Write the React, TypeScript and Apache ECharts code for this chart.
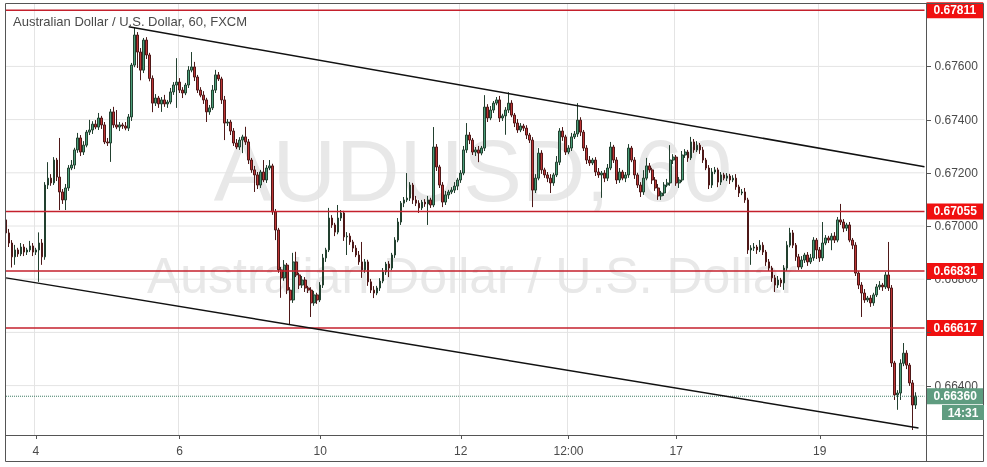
import React, { useEffect, useRef } from "react";
import * as echarts from "echarts";

const titleText = "Australian Dollar / U.S. Dollar, 60, FXCM";
const watermarkSymbol = "AUDUSD, 60";
const watermarkName = "Australian Dollar / U.S. Dollar";

// hourly candles: open of first candle, then closes (open = previous close)
const firstOpen = 0.67023;
const closes = [
  0.66974, 0.66936, 0.66884, 0.66910, 0.66895, 0.66921, 0.66902, 0.66910, 0.66925, 0.66902,
  0.66910, 0.66936, 0.66884, 0.67154, 0.67180, 0.67162, 0.67248, 0.67184, 0.67128, 0.67098,
  0.67143, 0.67218, 0.67229, 0.67286, 0.67331, 0.67278, 0.67304, 0.67353, 0.67361, 0.67383,
  0.67372, 0.67406, 0.67380, 0.67316, 0.67312, 0.67429, 0.67380, 0.67372, 0.67380, 0.67376,
  0.67368, 0.67410, 0.67605, 0.67718, 0.67654, 0.67586, 0.67699, 0.67643, 0.67555, 0.67462,
  0.67481, 0.67459, 0.67474, 0.67459, 0.67466, 0.67504, 0.67530, 0.67541, 0.67511, 0.67500,
  0.67530, 0.67586, 0.67598, 0.67560, 0.67511, 0.67492, 0.67474, 0.67429, 0.67444, 0.67511,
  0.67568, 0.67553, 0.67474, 0.67387, 0.67391, 0.67357, 0.67312, 0.67297, 0.67323, 0.67335,
  0.67316, 0.67248, 0.67211, 0.67192, 0.67154, 0.67203, 0.67173, 0.67218, 0.67226, 0.67053,
  0.66985, 0.66835, 0.66805, 0.66853, 0.66759, 0.66722, 0.66865, 0.66816, 0.66778, 0.66797,
  0.66767, 0.66759, 0.66711, 0.66741, 0.66722, 0.66778, 0.66880, 0.66910, 0.67030, 0.67004,
  0.66977, 0.67030, 0.67049, 0.66959, 0.66962, 0.66940, 0.66917, 0.66891, 0.66865, 0.66835,
  0.66865, 0.66790, 0.66759, 0.66748, 0.66767, 0.66793, 0.66827, 0.66857, 0.66842, 0.66891,
  0.66947, 0.67015, 0.67086, 0.67098, 0.67105, 0.67154, 0.67098, 0.67086, 0.67068, 0.67090,
  0.67083, 0.67098, 0.67079, 0.67297, 0.67222, 0.67154, 0.67090, 0.67117, 0.67128, 0.67135,
  0.67150, 0.67173, 0.67199, 0.67286, 0.67342, 0.67323, 0.67278, 0.67286, 0.67274, 0.67293,
  0.67447, 0.67406, 0.67436, 0.67462, 0.67474, 0.67406, 0.67414, 0.67436, 0.67462, 0.67417,
  0.67387, 0.67361, 0.67376, 0.67368, 0.67342, 0.67323, 0.67135, 0.67180, 0.67274, 0.67211,
  0.67192, 0.67180, 0.67162, 0.67192, 0.67240, 0.67357, 0.67335, 0.67278, 0.67293, 0.67335,
  0.67346, 0.67398, 0.67353, 0.67293, 0.67248, 0.67237, 0.67248, 0.67203, 0.67192, 0.67199,
  0.67180, 0.67218, 0.67297, 0.67248, 0.67173, 0.67203, 0.67180, 0.67192, 0.67293, 0.67248,
  0.67192, 0.67154, 0.67128, 0.67180, 0.67226, 0.67211, 0.67173, 0.67143, 0.67113, 0.67124,
  0.67154, 0.67162, 0.67248, 0.67259, 0.67162, 0.67173, 0.67267, 0.67278, 0.67256, 0.67316,
  0.67286, 0.67304, 0.67286, 0.67248, 0.67218, 0.67154, 0.67203, 0.67211, 0.67165, 0.67192,
  0.67180, 0.67188, 0.67173, 0.67180, 0.67147, 0.67124, 0.67128, 0.67098, 0.66910, 0.66917,
  0.66921, 0.66910, 0.66928, 0.66902, 0.66865, 0.66842, 0.66805, 0.66778, 0.66797, 0.66786,
  0.66842, 0.66928, 0.66974, 0.66928, 0.66884, 0.66846, 0.66872, 0.66891, 0.66865, 0.66880,
  0.66947, 0.66910, 0.66880, 0.66936, 0.66955, 0.66947, 0.66962, 0.66947, 0.67023, 0.67015,
  0.66992, 0.67004, 0.66947, 0.66928, 0.66823, 0.66778, 0.66748, 0.66722, 0.66729, 0.66711,
  0.66741, 0.66771, 0.66778, 0.66771, 0.66816, 0.66767, 0.66485, 0.66365, 0.66372, 0.66484,
  0.66522, 0.66477, 0.66410, 0.66327, 0.66360,
];
// upper / lower shadow length of each candle, in points (0.00001)
const wickUp = [
  56, 15, 11, 19, 8, 15, 11, 8, 19, 11, 8, 40, 15, 11, 60, 15, 11, 8, 147, 11,
  15, 11, 19, 8, 19, 11, 15, 8, 38, 11, 15, 19, 8, 11, 15, 11, 19, 56, 11, 8,
  15, 11, 8, 30, 11, 15, 8, 11, 8, 11, 15, 8, 11, 19, 8, 15, 11, 90, 15, 11,
  8, 15, 56, 19, 8, 11, 15, 8, 11, 19, 19, 11, 8, 15, 11, 8, 11, 15, 11, 8,
  38, 11, 8, 15, 11, 8, 45, 11, 22, 8, 11, 8, 11, 19, 8, 11, 34, 38, 8, 15,
  11, 8, 11, 15, 8, 11, 15, 8, 38, 11, 8, 49, 11, 8, 15, 11, 8, 11, 15, 75,
  11, 8, 11, 15, 8, 11, 15, 8, 11, 8, 11, 15, 8, 11, 94, 11, 8, 15, 11, 8,
  11, 15, 8, 75, 11, 8, 11, 15, 8, 11, 15, 8, 11, 15, 45, 11, 8, 11, 15, 8,
  45, 11, 15, 8, 11, 15, 8, 11, 41, 11, 8, 15, 11, 8, 11, 8, 11, 15, 19, 11,
  8, 11, 15, 8, 23, 11, 15, 8, 11, 15, 11, 64, 11, 8, 11, 15, 8, 11, 15, 8,
  11, 15, 19, 8, 11, 15, 8, 11, 15, 8, 11, 8, 11, 30, 30, 11, 8, 11, 15, 8,
  11, 15, 56, 11, 8, 11, 15, 11, 8, 19, 11, 15, 8, 11, 8, 11, 15, 11, 8, 11,
  8, 11, 8, 11, 15, 8, 11, 15, 8, 11, 15, 8, 19, 11, 8, 11, 8, 11, 15, 8,
  11, 15, 19, 11, 8, 11, 15, 8, 11, 15, 11, 8, 11, 79, 11, 8, 11, 15, 11, 60,
  11, 8, 11, 8, 11, 8, 11, 15, 8, 11, 8, 11, 15, 8, 11, 124, 11, 8, 11, 15,
  38, 11, 8, 11, 15,
];
const wickDown = [
  11, 15, 40, 30, 11, 8, 15, 11, 8, 15, 11, 120, 30, 11, 15, 11, 8, 15, 68, 15,
  38, 11, 8, 15, 11, 15, 11, 8, 11, 15, 8, 11, 15, 8, 11, 71, 11, 8, 15, 11,
  8, 11, 15, 8, 60, 38, 11, 15, 11, 34, 11, 15, 30, 11, 15, 8, 11, 86, 11, 19,
  8, 11, 8, 15, 11, 8, 15, 38, 11, 8, 11, 8, 15, 64, 11, 15, 11, 8, 11, 49,
  11, 15, 11, 64, 15, 11, 8, 11, 8, 11, 38, 11, 75, 11, 15, 94, 11, 8, 15, 11,
  15, 11, 53, 11, 15, 8, 11, 15, 8, 11, 15, 8, 11, 15, 68, 11, 15, 8, 11, 30,
  11, 15, 11, 19, 8, 11, 8, 11, 34, 8, 11, 8, 11, 15, 8, 11, 15, 11, 19, 8,
  11, 79, 11, 8, 15, 11, 19, 11, 15, 8, 11, 15, 11, 8, 11, 15, 11, 15, 34, 8,
  11, 15, 8, 11, 8, 15, 11, 71, 11, 8, 15, 11, 8, 11, 15, 11, 64, 11, 8, 15,
  11, 15, 38, 11, 8, 11, 15, 11, 8, 11, 8, 11, 15, 11, 15, 11, 8, 15, 11, 86,
  15, 11, 8, 11, 15, 11, 8, 15, 11, 8, 15, 11, 19, 11, 8, 11, 15, 11, 15, 15,
  11, 8, 11, 15, 11, 19, 8, 11, 15, 8, 11, 8, 15, 11, 8, 15, 11, 8, 19, 11,
  8, 11, 15, 8, 11, 15, 8, 11, 15, 56, 11, 15, 8, 11, 15, 11, 15, 26, 11, 15,
  26, 11, 8, 11, 15, 11, 8, 11, 15, 8, 11, 34, 15, 11, 8, 11, 38, 11, 8, 11,
  15, 11, 8, 15, 11, 15, 90, 11, 8, 15, 11, 8, 11, 15, 8, 11, 15, 19, 56, 26,
  11, 15, 11, 94, 15,
];

const timeLabels = ["4", "6", "10", "12", "12:00", "17", "19"];
const timeLabelIndex = [10, 58, 105, 152, 188, 224, 272];
const emptySlotsRight = 3;

const priceTicks = [0.664, 0.666, 0.668, 0.67, 0.672, 0.674, 0.676];
const levels = [0.67811, 0.67055, 0.66831, 0.66617];
const lastPrice = 0.6636;
const countdown = "14:31";
const upperTrend = [[41, 0.67749], [307, 0.67223]];
const lowerTrend = [[0, 0.66805], [305, 0.66241]];
const priceMin = 0.662143;
const priceMax = 0.678365;

const FONT = "Liberation Sans";
const GREEN_TAG = "#5f9c80";

export default function App() {
  const ref = useRef<HTMLDivElement>(null);
  useEffect(() => {
    const chart = echarts.init(ref.current!, null, { renderer: "svg" });
    const n = closes.length;
    const total = n + emptySlotsRight;
    const lastIdx = total - 1;
    const cats = Array.from({ length: total }, (_, i) => String(i));
    const ohlc = closes.map((c, i) => {
      const o = i === 0 ? firstOpen : closes[i - 1];
      const hi = Math.max(o, c) + wickUp[i] * 1e-5;
      const lo = Math.min(o, c) - wickDown[i] * 1e-5;
      return [o, c, lo, hi];
    });
    const labelAt = new Map<number, string>(timeLabelIndex.map((idx, k) => [idx, timeLabels[k]]));
    const isLabel = (i: number) => labelAt.has(i);

    const hLine = (name: string, p: number, z: number, lineStyle: any, endLabel: any) => ({
      name,
      type: "line",
      z,
      silent: true,
      symbol: "none",
      data: [
        [0, p],
        [lastIdx, p],
      ],
      lineStyle,
      endLabel: { show: true, formatter: p.toFixed(5), fontFamily: FONT, fontSize: 12, ...endLabel },
      emphasis: { disabled: true },
    });

    const tagLabel = (bg: string) => ({
      distance: 2,
      color: "#ffffff",
      fontWeight: "bold",
      lineHeight: 12,
      backgroundColor: bg,
      padding: [2, 7, 2, 7],
    });

    const frame: any[] = [
      {
        type: "text",
        z: 0,
        silent: true,
        style: {
          text: watermarkSymbol,
          x: 473,
          y: 170,
          align: "center",
          verticalAlign: "middle",
          fontSize: 88,
          fontFamily: FONT,
          fill: "#e8e8e8",
        },
      },
      {
        type: "text",
        z: 0,
        silent: true,
        style: {
          text: watermarkName,
          x: 472,
          y: 276,
          align: "center",
          verticalAlign: "middle",
          fontSize: 50,
          fontFamily: FONT,
          fill: "#e8e8e8",
        },
      },
      {
        type: "text",
        z: 50,
        silent: true,
        style: {
          text: titleText,
          x: 13,
          y: 21,
          align: "left",
          verticalAlign: "middle",
          fontSize: 13,
          fontFamily: FONT,
          fill: "#4a4a4a",
        },
      },
      {
        type: "rect",
        z: 100,
        silent: true,
        shape: { x: 5.5, y: 3.5, width: 978, height: 458 },
        style: { fill: "none", stroke: "#555", lineWidth: 1 },
      },
      {
        type: "line",
        z: 100,
        silent: true,
        shape: { x1: 5.5, y1: 435.5, x2: 983.5, y2: 435.5 },
        style: { stroke: "#555", lineWidth: 1 },
      },
      {
        type: "line",
        z: 100,
        silent: true,
        shape: { x1: 926.5, y1: 3.5, x2: 926.5, y2: 461.5 },
        style: { stroke: "#555", lineWidth: 1 },
      },
      {
        type: "rect",
        z: 100,
        silent: true,
        shape: { x: 942, y: 405, width: 42, height: 15 },
        style: { fill: GREEN_TAG },
      },
      {
        type: "text",
        z: 101,
        silent: true,
        style: {
          text: countdown,
          x: 963,
          y: 413,
          align: "center",
          verticalAlign: "middle",
          fontSize: 12,
          fontWeight: "bold",
          fontFamily: FONT,
          fill: "#ffffff",
        },
      },
    ];

    chart.setOption({
      animation: false,
      grid: { left: 4.5, top: 3.5, width: 921.5, height: 431.5, containLabel: false },
      xAxis: {
        type: "category",
        data: cats,
        boundaryGap: true,
        axisLine: { show: false },
        axisTick: { show: true, alignWithLabel: true, interval: isLabel, length: 4, lineStyle: { color: "#555" } },
        axisLabel: {
          interval: isLabel,
          formatter: (v: string) => labelAt.get(Number(v)) ?? "",
          color: "#4a4a4a",
          fontSize: 12,
          fontFamily: FONT,
          margin: 10,
        },
        splitLine: { show: true, interval: isLabel, lineStyle: { color: "#e4e4e4", width: 1 } },
      },
      yAxis: {
        type: "value",
        position: "right",
        min: priceMin,
        max: priceMax,
        axisLine: { show: false },
        axisTick: { show: false },
        axisLabel: { show: false },
        splitLine: { show: false },
      },
      graphic: frame,
      series: [
        ...priceTicks.map((p, k) =>
          hLine("grid" + k, p, 1, { color: "#e4e4e4", width: 1, type: "solid" }, { distance: 10, color: "#4a4a4a" })
        ),
        {
          name: "AUDUSD",
          type: "candlestick",
          z: 2,
          barWidth: 2.2,
          data: ohlc,
          itemStyle: {
            color: "#4c9e7a",
            color0: "#bd3535",
            borderColor: "#22402f",
            borderColor0: "#4e1818",
            borderWidth: 1,
          },
          markLine: {
            silent: true,
            symbol: "none",
            data: [
              [
                { coord: upperTrend[0], lineStyle: { color: "#111", width: 1.5, type: "solid" }, label: { show: false } },
                { coord: upperTrend[1] },
              ],
              [
                { coord: lowerTrend[0], lineStyle: { color: "#111", width: 1.5, type: "solid" }, label: { show: false } },
                { coord: lowerTrend[1] },
              ],
            ],
          },
        },
        ...levels.map((lv, k) =>
          hLine("level" + k, lv, 4, { color: "#c4202c", width: 1.5, type: "solid" }, tagLabel("#f01010"))
        ),
        hLine("last", lastPrice, 4, { color: "#3d7a62", width: 1, type: "dotted" }, tagLabel(GREEN_TAG)),
      ],
    });

    // small tick marks on the price scale, placed through the y axis scale
    const ticks = priceTicks.map((p) => {
      const y = Math.round(chart.convertToPixel({ yAxisIndex: 0 }, p) as number) + 0.5;
      return {
        type: "line",
        z: 100,
        silent: true,
        shape: { x1: 926.5, y1: y, x2: 931, y2: y },
        style: { stroke: "#555", lineWidth: 1 },
      };
    });
    chart.setOption({ graphic: [...frame, ...ticks] });

    return () => chart.dispose();
  }, []);
  return <div ref={ref} style={{ position: "fixed", left: 0, top: 0, width: 987, height: 467 }} />;
}
